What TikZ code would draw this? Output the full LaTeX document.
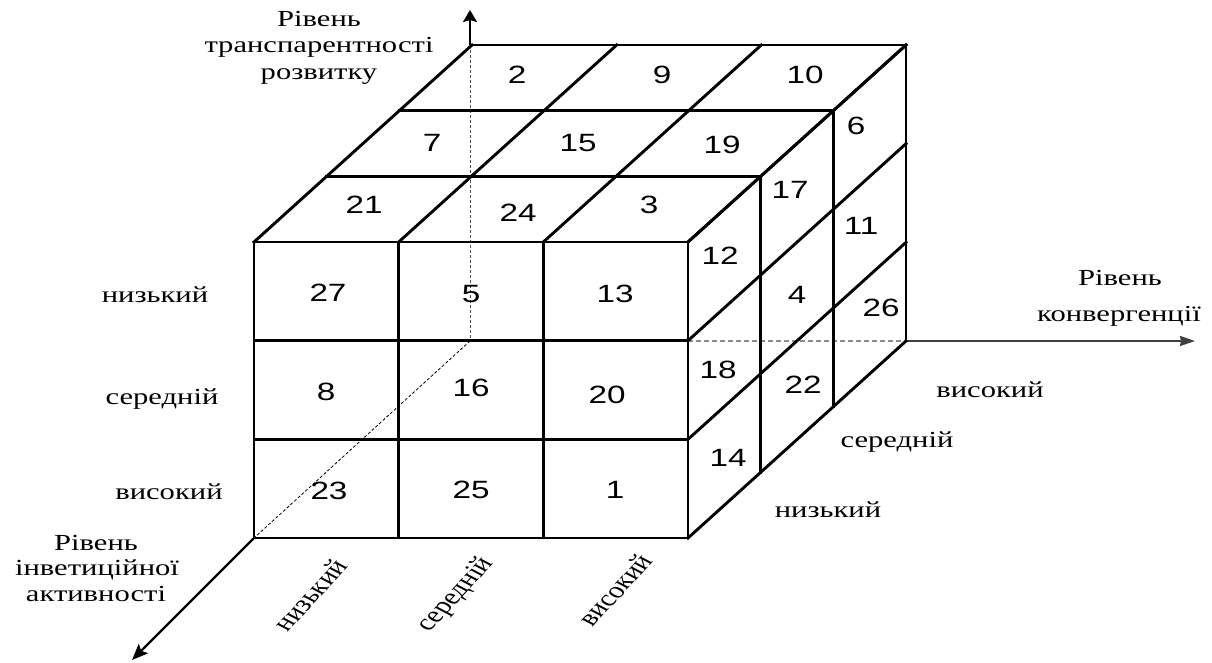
\documentclass[tikz,border=0pt]{standalone}
\usepackage{fontspec}
\setmainfont{Liberation Serif}
\newfontfamily\serifW{Liberation Serif}[FakeStretch=1.33]
\newfontfamily\sansW{Liberation Sans}[FakeStretch=1.33]
\usetikzlibrary{arrows.meta}
\begin{document}
\begin{tikzpicture}[x=1pt,y=-1pt,
  cubeline/.style={line width=2.9pt, line cap=rect, black},
  axisline/.style={line width=2.3pt, black},
  axisgrey/.style={line width=2pt, black!75},
  hidvert/.style={line width=1pt, black!70, dash pattern=on 3pt off 2pt},
  hiddiag/.style={line width=0.8pt, black, dash pattern=on 3pt off 2pt},
  hidhor/.style={line width=1.8pt, black!45, dash pattern=on 5pt off 3pt},
  num/.style={font=\sansW\fontsize{25}{30}\selectfont, inner sep=0pt, anchor=center},
  lab/.style={font=\serifW\fontsize{23}{27}\selectfont, inner sep=0pt, anchor=base},
  rotlab/.style={font=\fontsize{23}{27}\selectfont, inner sep=0pt, rotate=55, transform shape}
]
\useasboundingbox (0,0) rectangle (1212,662);
\fill[white] (0,0) rectangle (1212,662);

% key corners
\coordinate (O) at (254,538);
\coordinate (Bt) at (470,45);
\coordinate (Bb) at (470,341);
\coordinate (Br) at (906,341);
\coordinate (Fr) at (688,341);
\coordinate (topTip) at (470,10);
\coordinate (rightTip) at (1195,341);
\coordinate (zTip) at (132,660);

% hidden edges
\draw[hidvert] (Bt) -- (Bb);
\draw[hiddiag] (Bb) -- (O);
\draw[hidhor] (Fr) -- (Br);

% axes
\draw[axisline,-{Stealth[length=12pt,width=14pt,inset=2pt]}] (Bt) -- (topTip);
\draw[axisgrey,-{Stealth[length=15pt,width=10pt,inset=1pt]}] (Br) -- (rightTip);
\draw[axisline,-{Stealth[length=16pt,width=13pt,inset=3pt]}] (O) -- (zTip);

% cube grid
\foreach \i in {0,1,2,3} {
  \draw[cubeline] (254+\i*144.667,242) -- (254+\i*144.667,538);
  \draw[cubeline] (254,242+\i*98.667) -- (688,242+\i*98.667);
  \draw[cubeline] (254+\i*144.667,242) -- ++(218,-197);
  \draw[cubeline] (688,242+\i*98.667) -- ++(218,-197);
}
\foreach \k in {1,2,3} {
  \draw[cubeline] (254+\k*72.667,242-\k*65.667) -- (688+\k*72.667,242-\k*65.667);
  \draw[cubeline] (688+\k*72.667,242-\k*65.667) -- (688+\k*72.667,538-\k*65.667);
}

% top face numbers
\node[num] (n2)  at (517,75) {2};
\node[num] (n9)  at (662,75) {9};
\node[num] (n10) at (805,75) {10};
\node[num] (n7)  at (432,143) {7};
\node[num] (n15) at (578,143) {15};
\node[num] (n19) at (722,145) {19};
\node[num] (n21) at (364,205) {21};
\node[num] (n24) at (518,213) {24};
\node[num] (n3)  at (649,205) {3};
% front face numbers
\node[num] (n27) at (328,293) {27};
\node[num] (n5)  at (471,294) {5};
\node[num] (n13) at (615,294) {13};
\node[num] (n8)  at (326,392) {8};
\node[num] (n16) at (471,388) {16};
\node[num] (n20) at (607,395) {20};
\node[num] (n23) at (329,491) {23};
\node[num] (n25) at (471,490) {25};
\node[num] (n1)  at (615,490) {1};
% right face numbers
\node[num] (n12) at (720,256) {12};
\node[num] (n17) at (790,190) {17};
\node[num] (n6)  at (856,126) {6};
\node[num] (n18) at (718,370) {18};
\node[num] (n4)  at (797,295) {4};
\node[num] (n11) at (861,226) {11};
\node[num] (n14) at (728,458) {14};
\node[num] (n22) at (803,385) {22};
\node[num] (n26) at (881,308) {26};

% axis titles
\node[lab] (t1) at (319,26) {Рівень};
\node[lab] (t2) at (319,52) {транспарентності};
\node[lab] (t3) at (319,79) {розвитку};
\node[lab] (r1) at (1120,285) {Рівень};
\node[lab] (r2) at (1119,321) {конвергенції};
\node[lab] (l1) at (96,550) {Рівень};
\node[lab] (l2) at (97,575) {інветиційної};
\node[lab] (l3) at (96,601) {активності};

% level labels, left
\node[lab] (ly1) at (155,302) {низький};
\node[lab] (ly2) at (162,404) {середній};
\node[lab] (ly3) at (169,499) {високий};
% level labels, right
\node[lab] (lr1) at (990,397) {високий};
\node[lab] (lr2) at (897,447) {середній};
\node[lab] (lr3) at (828,517) {низький};

% level labels, bottom (rotated)
\begin{scope}[shift={(310,595)},xscale=1.33]
  \node[rotlab] (b1) at (0,0) {низький};
\end{scope}
\begin{scope}[shift={(456,595)},xscale=1.33]
  \node[rotlab] (b2) at (0,0) {середній};
\end{scope}
\begin{scope}[shift={(615,590)},xscale=1.33]
  \node[rotlab] (b3) at (0,0) {високий};
\end{scope}
\end{tikzpicture}
\end{document}
